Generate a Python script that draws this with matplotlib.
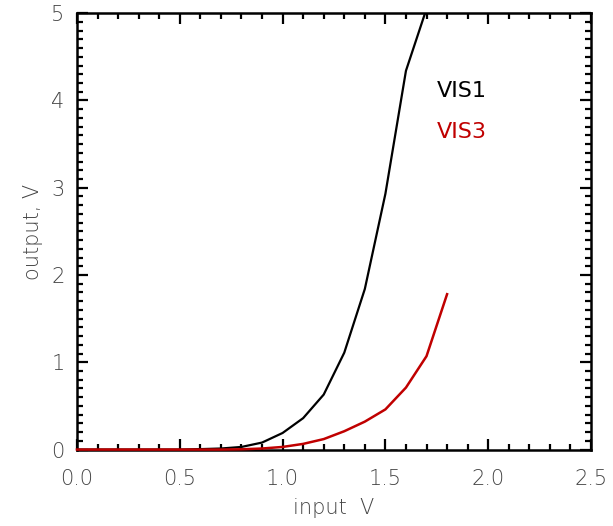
import matplotlib
matplotlib.use("Agg")
import matplotlib.pyplot as plt
from matplotlib.ticker import MultipleLocator

# input voltage sweep and measured outputs
vin_vis1 = [0.0, 0.5, 0.6, 0.7, 0.8, 0.9, 1.0, 1.1, 1.2, 1.3, 1.4, 1.5, 1.6, 1.7]
vout_vis1 = [0.0, 0.0, 0.005, 0.012, 0.03, 0.08, 0.19, 0.36, 0.63, 1.11, 1.84, 2.93, 4.34, 5.05]

vin_vis3 = [0.0, 0.6, 0.7, 0.8, 0.9, 1.0, 1.1, 1.2, 1.3, 1.4, 1.5, 1.6, 1.7, 1.8]
vout_vis3 = [0.0, 0.0, 0.0, 0.003, 0.012, 0.03, 0.065, 0.12, 0.21, 0.32, 0.46, 0.71, 1.07, 1.78]

red = '#c00000'
txt = '#444444'

fig = plt.figure(figsize=(6.13, 5.26), dpi=100)
ax = fig.add_axes([0.1256, 0.1445, 0.8385, 0.8305])

ax.plot(vin_vis1, vout_vis1, color='black', lw=1.6, solid_joinstyle='miter')
ax.plot(vin_vis3, vout_vis3, color=red, lw=1.8, solid_joinstyle='miter',
        clip_on=False, zorder=3)

ax.set_xlim(0, 2.5)
ax.set_ylim(-0.005, 5.0)

ax.xaxis.set_major_locator(MultipleLocator(0.5))
ax.xaxis.set_minor_locator(MultipleLocator(0.1))
ax.yaxis.set_major_locator(MultipleLocator(1))
ax.yaxis.set_minor_locator(MultipleLocator(0.1))
ax.xaxis.set_major_formatter(plt.FuncFormatter(lambda v, p: '%.1f' % v))
ax.yaxis.set_major_formatter(plt.FuncFormatter(lambda v, p: '%d' % round(v)))

ax.tick_params(which='both', direction='in', top=True, right=True,
               width=1.6, colors='black', labelcolor=txt, labelsize=15)
ax.tick_params(which='major', length=8)
ax.tick_params(axis='x', which='major', pad=14)
ax.tick_params(axis='y', which='major', pad=9)
ax.tick_params(which='minor', length=4)
for lab in ax.get_xticklabels() + ax.get_yticklabels():
    lab.set_fontweight('light')
for s in ax.spines.values():
    s.set_linewidth(1.8)

ax.set_xlabel('input  V', fontsize=15, color=txt, fontweight='light', labelpad=6)
ax.set_ylabel('output, V', fontsize=15, color=txt, fontweight='light', labelpad=6)

ax.text(1.75, 4.11, 'VIS1', color='black', fontsize=16, va='center')
ax.text(1.75, 3.64, 'VIS3', color=red, fontsize=16, va='center')

fig.savefig('out.png', dpi=100)
